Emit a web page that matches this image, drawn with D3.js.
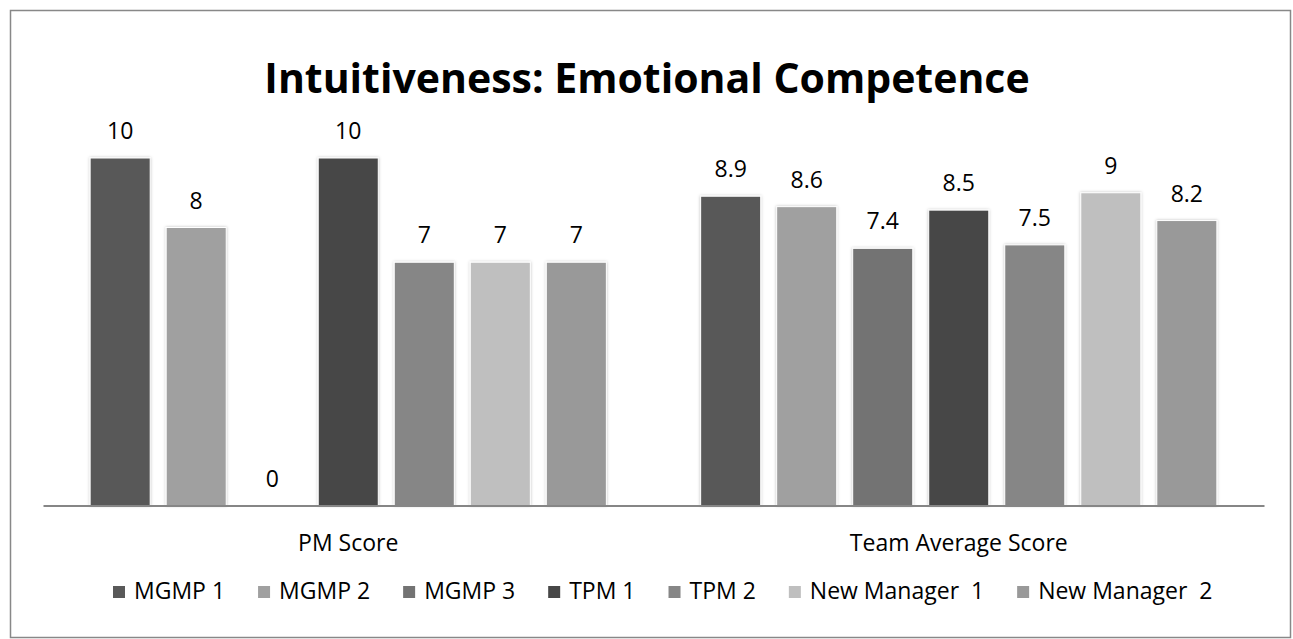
<!DOCTYPE html>
<html>
<head>
<meta charset="utf-8">
<script src="https://cdn.jsdelivr.net/npm/d3@7"></script>
<style>
  body { margin: 0; background: #fff; }
  text { font-family: "Open Sans", sans-serif; fill: #000; }
</style>
</head>
<body>
<div id="chart"></div>
<script>
var groups = ["PM Score", "Team Average Score"];
var series = ["MGMP 1", "MGMP 2", "MGMP 3", "TPM 1", "TPM 2", "New Manager  1", "New Manager  2"];
var pmScore = [10, 8, 0, 10, 7, 7, 7];
var teamAverage = [8.9, 8.6, 7.4, 8.5, 7.5, 9, 8.2];
var colors = ["#595959", "#a0a0a0", "#737373", "#474747", "#868686", "#bfbfbf", "#999999"];

var width = 1293, height = 639;
var plot = { left: 43, right: 1264, top: 158, bottom: 505.5 };

var svg = d3.select("#chart").append("svg")
  .attr("width", width)
  .attr("height", height);

var defs = svg.append("defs");
defs.append("filter").attr("id", "shadow")
  .attr("x", "-20%").attr("y", "-5%").attr("width", "140%").attr("height", "110%")
  .append("feDropShadow")
  .attr("dx", 0).attr("dy", 0).attr("stdDeviation", 1.6)
  .attr("flood-color", "#000").attr("flood-opacity", 0.25);

// outer border
svg.append("rect")
  .attr("x", 10.5).attr("y", 10.5)
  .attr("width", 1280).attr("height", 627)
  .attr("fill", "none")
  .attr("stroke", "#888")
  .attr("stroke-width", 1.5);

svg.append("text")
  .attr("x", 647)
  .attr("y", 93)
  .attr("text-anchor", "middle")
  .style("font-size", "41px")
  .style("font-weight", "bold")
  .text("Intuitiveness: Emotional Competence");

var x0 = d3.scaleBand().domain(groups).range([plot.left, plot.right]);
var x1 = d3.scaleBand().domain(series).range([0, x0.bandwidth()])
  .paddingInner(0.21).paddingOuter(0.62);
var y = d3.scaleLinear().domain([0, 10]).range([plot.bottom, plot.top]);

var rows = [];
groups.forEach(function (g, gi) {
  var vals = gi === 0 ? pmScore : teamAverage;
  series.forEach(function (s, si) {
    rows.push({ group: g, series: s, value: vals[si], color: colors[si] });
  });
});

svg.selectAll(".bar")
  .data(rows)
  .enter().append("rect")
  .attr("class", "bar")
  .attr("x", d => x0(d.group) + x1(d.series))
  .attr("y", d => y(d.value))
  .attr("width", x1.bandwidth())
  .attr("height", d => y(0) - y(d.value))
  .attr("fill", d => d.color)
  .attr("stroke", "#fff")
  .attr("stroke-width", 1)
  .attr("filter", "url(#shadow)")
  .style("display", d => d.value === 0 ? "none" : null);

svg.selectAll(".label")
  .data(rows)
  .enter().append("text")
  .attr("class", "label")
  .attr("x", d => x0(d.group) + x1(d.series) + x1.bandwidth() / 2)
  .attr("y", d => y(d.value) - 19)
  .attr("text-anchor", "middle")
  .style("font-size", "23px")
  .text(d => d.value);

// category axis
var xAxis = d3.axisBottom(x0).tickSize(0).tickPadding(29);
var gx = svg.append("g")
  .attr("transform", "translate(0," + plot.bottom + ")")
  .call(xAxis);
gx.select(".domain").attr("stroke", "#868686").attr("stroke-width", 2);
gx.selectAll(".tick text")
  .style("font-size", "23px")
  .style("font-family", "'Open Sans', sans-serif")
  .attr("fill", "#000");

// legend
var legend = svg.append("g").attr("class", "legend");
var lx = 113;
series.forEach(function (s, i) {
  var item = legend.append("g").attr("transform", "translate(" + lx + ",0)");
  item.append("rect")
    .attr("x", 0).attr("y", 586)
    .attr("width", 12).attr("height", 12)
    .attr("fill", colors[i]);
  var t = item.append("text")
    .attr("x", 21).attr("y", 599)
    .style("font-size", "23px")
    .style("white-space", "pre")
    .text(s);
  lx += 21 + t.node().getComputedTextLength() + 33;
});
</script>
</body>
</html>
